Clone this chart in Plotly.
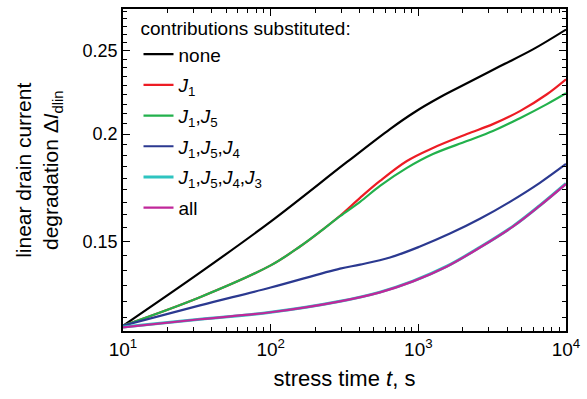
import plotly.graph_objects as go

# ---- data (stress time t in s, degradation) ----
t_none = [10, 33.2, 100, 329, 643, 919, 1400, 2133, 3565, 5970, 10000]
y_none = [0.1197, 0.1380, 0.1582, 0.1856, 0.2027, 0.2115, 0.2207, 0.2291, 0.2398, 0.2509, 0.2646]

t_j1 = [10, 33.2, 100, 158, 216, 295, 403, 550, 837, 1256, 2133, 3199, 4874, 7430, 10000]
y_j1 = [0.1197, 0.1292, 0.1407, 0.1480, 0.1540, 0.1607, 0.1686, 0.1764, 0.1861, 0.1927, 0.2000, 0.2054, 0.2127, 0.2225, 0.2316]

t_j15 = [10, 33.2, 100, 158, 216, 295, 403, 550, 837, 1256, 2133, 3199, 4874, 7430, 10000]
y_j15 = [0.1197, 0.1292, 0.1407, 0.1480, 0.1540, 0.1605, 0.1668, 0.1741, 0.1827, 0.1896, 0.1963, 0.2016, 0.2087, 0.2167, 0.2231]

t_j154 = [10, 33.2, 100, 295, 403, 643, 1026, 1637, 2612, 4169, 6653, 10000]
y_j154 = [0.1197, 0.1264, 0.1326, 0.1395, 0.1410, 0.1437, 0.1480, 0.1532, 0.1594, 0.1668, 0.1755, 0.1846]

t_j1543 = [10, 33.2, 100, 295, 550, 919, 1563, 2612, 4365, 6653, 10000]
y_j1543 = [0.1193, 0.1218, 0.1241, 0.1278, 0.1310, 0.1349, 0.1404, 0.1477, 0.1562, 0.1652, 0.1752]

t_all = [10, 33.2, 100, 295, 550, 919, 1563, 2612, 4365, 6653, 10000]
y_all = [0.1192, 0.1218, 0.1241, 0.1278, 0.1309, 0.1348, 0.1403, 0.1476, 0.1561, 0.1651, 0.1750]

names = ["none",
         "<i>J</i><sub>1</sub>",
         "<i>J</i><sub>1</sub>,<i>J</i><sub>5</sub>",
         "<i>J</i><sub>1</sub>,<i>J</i><sub>5</sub>,<i>J</i><sub>4</sub>",
         "<i>J</i><sub>1</sub>,<i>J</i><sub>5</sub>,<i>J</i><sub>4</sub>,<i>J</i><sub>3</sub>",
         "all"]
colors = ["#000000", "#ED1C24", "#22B14C", "#2B3990", "#2EC4C0", "#C0279A"]
widths = [2.2, 2.2, 2.2, 2.2, 3.0, 2.2]

x_tickvals = [10, 100, 1000, 10000]
x_ticktext = ["10<sup>1</sup>", "10<sup>2</sup>", "10<sup>3</sup>", "10<sup>4</sup>"]
y_tickvals = [0.15, 0.2, 0.25]
y_ticktext = ["0.15", "0.2", "0.25"]

series = [(t_none, y_none), (t_j1, y_j1), (t_j15, y_j15),
          (t_j154, y_j154), (t_j1543, y_j1543), (t_all, y_all)]

fig = go.Figure()
for i, ((tx, ty), nm, c, w) in enumerate(zip(series, names, colors, widths)):
    fig.add_trace(go.Scatter(x=tx, y=ty, mode="lines", name=nm, legendgroup=f"g{i}",
                             line=dict(color=c, width=w, shape="spline", smoothing=1.0)))

# minor tick positions
x_minor = [m * d for d in (10, 100, 1000) for m in range(2, 10)]
y_minor = []
for base in (0.10, 0.15, 0.20, 0.25):
    for k in range(1, 9):
        y_minor.append(round(base + k * 0.05 / 9, 6))

font_family = "Liberation Sans, Arial, sans-serif"

fig.update_layout(
    width=587, height=399,
    margin=dict(l=123, r=21, t=7, b=68),
    paper_bgcolor="white", plot_bgcolor="white",
    font=dict(family=font_family, color="black", size=18),
    showlegend=True,
    legend=dict(x=0.035, y=0.995, xanchor="left", yanchor="top",
                bgcolor="rgba(0,0,0,0)", font=dict(size=19),
                title=dict(text="contributions substituted:", font=dict(size=19)),
                tracegroupgap=3),
    xaxis=dict(type="log", range=[1, 4],
               tickmode="array", tickvals=x_tickvals, ticktext=x_ticktext,
               ticks="inside", ticklen=7, tickwidth=1.3, tickcolor="black",
               showline=True, linecolor="black", linewidth=1.5, mirror="allticks",
               showgrid=False, zeroline=False,
               tickfont=dict(size=19),
               minor=dict(tickmode="array", tickvals=x_minor, ticks="inside",
                          ticklen=4, tickwidth=1.1, tickcolor="black", showgrid=False),
               title=dict(text="stress time <i>t</i>, s", font=dict(size=22), standoff=12)),
    yaxis=dict(type="log", range=[-0.928, -0.5535],
               tickmode="array", tickvals=y_tickvals, ticktext=y_ticktext,
               ticks="inside", ticklen=7, tickwidth=1.3, tickcolor="black",
               showline=True, linecolor="black", linewidth=1.5, mirror="allticks",
               showgrid=False, zeroline=False,
               tickfont=dict(size=18),
               minor=dict(tickmode="array", tickvals=y_minor, ticks="inside",
                          ticklen=4, tickwidth=1.1, tickcolor="black", showgrid=False)),
)

fig.add_annotation(text="linear drain current<br>degradation Δ<i>I</i><sub>dlin</sub>",
                   xref="paper", yref="paper", x=-0.19, y=0.5,
                   xanchor="center", yanchor="middle", textangle=-90,
                   showarrow=False, font=dict(size=21, family=font_family))

fig.write_html("out.html")
